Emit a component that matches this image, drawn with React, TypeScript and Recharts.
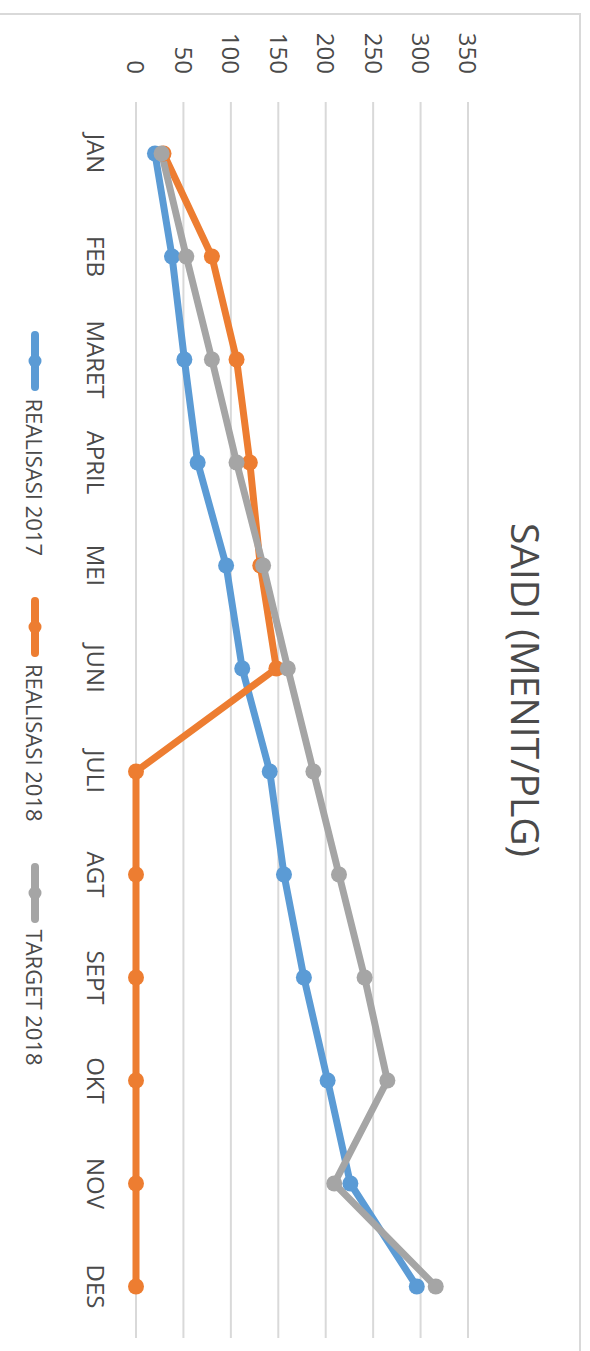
import { LineChart, Line, XAxis, YAxis, CartesianGrid } from 'recharts';

const months = ['JAN', 'FEB', 'MARET', 'APRIL', 'MEI', 'JUNI', 'JULI', 'AGT', 'SEPT', 'OKT', 'NOV', 'DES'];
const realisasi2017 = [20, 38, 51, 65, 95, 112, 141, 156, 177, 202, 226, 296];
const realisasi2018 = [29, 80, 106, 120, 131, 148, 0, 0, 0, 0, 0, 0];
const target2018 = [27, 53, 80, 106, 134, 160, 187, 214, 241, 265, 209, 316];
const valueTicks = [0, 50, 100, 150, 200, 250, 300, 350];

const series = [
  { key: 'r2017', name: 'REALISASI 2017', color: '#5B9BD5' },
  { key: 'r2018', name: 'REALISASI 2018', color: '#ED7D31' },
  { key: 't2018', name: 'TARGET 2018', color: '#A5A5A5' },
];

const data = months.map((month, i) => ({
  month,
  r2017: realisasi2017[i],
  r2018: realisasi2018[i],
  t2018: target2018[i],
}));

const font = '"Open Sans", sans-serif';
const textColor = '#4a4a4a';
const tickStyle = { fill: textColor, fontSize: 24, fontFamily: font };

// chart is drawn in landscape and turned 90deg clockwise, like the source
const App = () => {
  return (
    <div
      style={{
        position: 'fixed',
        top: 0,
        left: 0,
        width: 590,
        height: 1351,
        overflow: 'hidden',
        background: '#fff',
      }}
    >
      <div
        style={{
          position: 'absolute',
          top: 0,
          left: 0,
          width: 1351,
          height: 590,
          transformOrigin: '0 0',
          transform: 'translate(590px, 0) rotate(90deg)',
        }}
      >
        <div
          style={{
            position: 'absolute',
            left: 13,
            top: 9,
            width: 2000,
            height: 2000,
            border: '2px solid #D9D9D9',
            boxSizing: 'border-box',
          }}
        />
        <div
          style={{
            position: 'absolute',
            left: 390,
            width: 600,
            top: 44,
            textAlign: 'center',
            fontFamily: font,
            fontSize: 39,
            lineHeight: 1,
            color: textColor,
          }}
        >
          SAIDI (MENIT/PLG)
        </div>
        <div style={{ position: 'absolute', top: 0, left: 0 }}>
          <LineChart width={1351} height={590} data={data} margin={{ top: 122, right: 13, bottom: 0, left: 0 }}>
            <CartesianGrid vertical={false} stroke="#D9D9D9" strokeWidth={2} />
            <XAxis
              dataKey="month"
              scale="band"
              height={136}
              axisLine={false}
              tickLine={false}
              tickSize={0}
              tickMargin={32}
              tick={tickStyle}
              interval={0}
            />
            <YAxis
              width={102}
              domain={[0, 350]}
              ticks={valueTicks}
              axisLine={false}
              tickLine={false}
              tickSize={0}
              tickMargin={28}
              tick={tickStyle}
            />
            {series.map((s) => (
              <Line
                key={s.key}
                type="linear"
                dataKey={s.key}
                name={s.name}
                stroke={s.color}
                strokeWidth={7}
                strokeLinejoin="round"
                strokeLinecap="round"
                dot={{ r: 8, fill: s.color, stroke: s.color, strokeWidth: 0 }}
                activeDot={false}
                isAnimationActive={false}
              />
            ))}
          </LineChart>
        </div>
        <div
          style={{
            position: 'absolute',
            top: 540,
            left: 298,
            width: 800,
            display: 'flex',
            justifyContent: 'center',
            alignItems: 'center',
            gap: 40,
            fontFamily: font,
            fontSize: 22,
            color: textColor,
          }}
        >
          {series.map((s) => (
            <div key={s.key} style={{ display: 'flex', alignItems: 'center', gap: 6 }}>
              <svg width={62} height={20}>
                <line x1={5} y1={10} x2={57} y2={10} stroke={s.color} strokeWidth={8} strokeLinecap="round" />
                <circle cx={31} cy={10} r={6.5} fill={s.color} />
              </svg>
              <span>{s.name}</span>
            </div>
          ))}
        </div>
      </div>
    </div>
  );
};

export default App;
